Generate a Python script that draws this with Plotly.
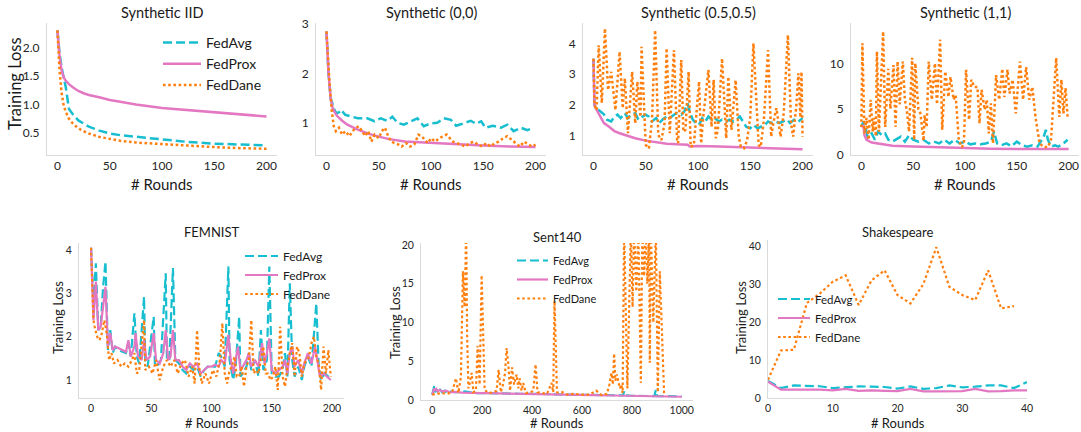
import plotly.graph_objects as go

W, H = 1081, 432
CYAN = "#17becf"
PINK = "#e377c2"
ORANGE = "#ff7f0e"
FONT = "Lato"
AXIS_GRAY = "#dadada"
TICK_COLOR = "#262626"
TEXT_COLOR = "#1a1a1a"

# ---------------- data ----------------
# Synthetic IID
iid_rounds = [0, 2, 4, 6, 8, 11, 15, 20, 25, 30, 40, 50, 60, 75, 100, 125, 150, 175, 200]
iid_fedavg = [2.31, 1.9, 1.65, 1.5, 1.3, 0.92, 0.82, 0.72, 0.66, 0.61, 0.54, 0.49, 0.46, 0.43, 0.38, 0.34, 0.31, 0.29, 0.28]
iid_fedprox = [2.31, 1.85, 1.6, 1.48, 1.42, 1.36, 1.3, 1.24, 1.2, 1.17, 1.13, 1.08, 1.05, 1.0, 0.94, 0.9, 0.86, 0.82, 0.79]
iid_feddane = [2.31, 1.6, 1.2, 0.98, 0.87, 0.75, 0.66, 0.58, 0.53, 0.49, 0.43, 0.39, 0.36, 0.33, 0.3, 0.27, 0.25, 0.23, 0.22]

# Synthetic (0,0)
s00_prox_rounds = [0, 2, 4, 6, 8, 10, 15, 20, 30, 40, 50, 60, 75, 100, 125, 150, 175, 200]
s00_fedprox = [2.85, 2.0, 1.5, 1.3, 1.22, 1.15, 1.05, 0.97, 0.87, 0.79, 0.73, 0.68, 0.63, 0.6, 0.57, 0.55, 0.53, 0.52]
s00_avg_rounds = [0, 2, 4, 6, 8, 10, 12, 14, 18, 23, 30, 39, 46, 52, 58, 63, 68, 74, 81, 87,
                  93, 100, 106, 112, 119, 124, 130, 138, 143, 148, 152, 159, 167, 173, 179, 186, 192, 198]
s00_fedavg = [2.85, 2.0, 1.5, 1.35, 1.25, 1.2, 1.22, 1.27, 1.17, 1.14, 1.1, 1.1, 1.04, 1.1, 1.05, 1.13, 1.01, 0.97, 1.04, 1.1,
              0.94, 1.0, 1.01, 1.1, 1.07, 0.95, 0.99, 1.05, 0.99, 1.04, 0.91, 0.95, 0.91, 0.97, 0.84, 0.91, 0.86, 0.91]
s00_dane_rounds = [0, 2, 3, 5, 7, 9, 12, 15, 18, 22, 25, 28, 31, 34, 37, 40, 43, 46, 50, 53,
                   56, 59, 62, 65, 69, 72, 76, 80, 84, 88, 91, 94, 97, 100, 104, 108, 112, 115, 118, 121,
                   125, 129, 133, 137, 141, 145, 149, 153, 157, 161, 165, 169, 173, 177, 181, 185, 189, 193, 197, 200]
s00_feddane = [2.85, 2.0, 1.8, 1.27, 0.94, 0.84, 0.91, 0.77, 0.84, 0.74, 0.84, 0.91, 0.94, 0.84, 0.74, 0.84, 0.63, 0.77, 0.7, 0.84,
               0.91, 0.74, 0.63, 0.6, 0.57, 0.53, 0.6, 0.53, 0.57, 0.77, 0.74, 0.67, 0.6, 0.7, 0.63, 0.7, 0.74, 0.77, 0.7, 0.63,
               0.6, 0.57, 0.53, 0.6, 0.63, 0.57, 0.53, 0.6, 0.53, 0.6, 0.63, 0.7, 0.74, 0.67, 0.6, 0.53, 0.63, 0.57, 0.53, 0.57]

# Synthetic (0.5,0.5)
s05_prox_rounds = [0, 1, 3, 5, 10, 15, 20, 25, 30, 40, 50, 60, 70, 80, 90, 92, 100, 120, 150, 175, 200]
s05_fedprox = [3.5, 2.0, 1.85, 1.72, 1.42, 1.3, 1.16, 1.09, 1.03, 0.93, 0.85, 0.8, 0.75, 0.73, 0.72, 0.66, 0.68, 0.66, 0.63, 0.6, 0.57]
s05_avg_rounds = [0, 1, 3, 6, 10, 13, 17, 20, 23, 26, 30, 33, 36, 40, 43, 47, 50, 53, 56, 60,
                  63, 66, 70, 73, 77, 80, 84, 87, 90, 92, 95, 98, 101, 104, 107, 110, 113, 116, 120, 123,
                  127, 130, 134, 137, 140, 143, 146, 150, 153, 157, 160, 164, 167, 170, 174, 178, 181, 185, 188, 192, 196, 200]
s05_fedavg = [3.5, 2.0, 1.9, 1.8, 1.7, 1.53, 1.47, 1.63, 1.69, 1.58, 1.74, 1.58, 1.69, 1.74, 1.53, 1.63, 1.69, 1.63, 1.47, 1.58,
              1.42, 1.53, 1.63, 1.58, 1.69, 1.74, 1.69, 1.8, 2.06, 1.8, 1.53, 1.42, 1.36, 1.58, 1.47, 1.63, 1.53, 1.58, 1.47, 1.53,
              1.47, 1.53, 1.47, 1.53, 1.63, 1.47, 1.3, 1.25, 1.36, 1.25, 1.3, 1.36, 1.47, 1.42, 1.47, 1.42, 1.47, 1.53, 1.42, 1.53, 1.47, 1.58]
s05_dane_rounds = [0, 1, 3, 5, 8, 11, 14, 17, 21, 25, 28, 30, 33, 37, 40, 42, 45, 46, 50, 53,
                   56, 59, 62, 65, 68, 70, 73, 77, 80, 81, 84, 86, 88, 91, 93, 96, 101, 103, 105, 110,
                   113, 115, 117, 119, 123, 127, 129, 132, 136, 139, 141, 144, 147, 150, 153, 158, 160, 163, 167, 170,
                   172, 175, 179, 182, 186, 189, 191, 194, 196, 198, 199, 200]
s05_feddane = [3.5, 2.0, 1.84, 3.94, 2.07, 4.48, 2.49, 3.08, 1.84, 3.73, 1.9, 2.87, 1.09, 3.08, 1.41, 2.76, 1.62, 3.89, 0.71, 0.6,
               1.5, 4.43, 1.03, 0.87, 1.41, 3.84, 1.09, 3.78, 0.87, 0.77, 3.46, 1.14, 1.2, 3.08, 0.65, 0.7, 2.76, 0.76, 1.62, 3.14,
               1.3, 2.82, 0.93, 1.2, 3.51, 0.93, 2.92, 1.2, 2.81, 0.98, 0.65, 0.6, 0.87, 1.62, 4.0, 0.71, 0.65, 1.52, 3.78, 0.98,
               1.41, 1.9, 0.98, 1.74, 4.27, 1.4, 0.98, 1.95, 3.03, 1.6, 3.08, 0.98]

# Synthetic (1,1)
s11_prox_rounds = [0, 2, 3, 5, 10, 20, 30, 50, 75, 100, 125, 150, 175, 200]
s11_fedprox = [3.0, 3.2, 2.1, 1.6, 1.3, 1.15, 0.95, 0.85, 0.77, 0.66, 0.62, 0.59, 0.55, 0.59]
s11_avg_rounds = [0, 2, 4, 6, 10, 13, 16, 20, 23, 26, 30, 35, 38, 42, 46, 50, 55, 60, 65, 70,
                  75, 80, 85, 90, 95, 100, 105, 110, 115, 120, 125, 128, 131, 135, 140, 145, 150, 155, 160, 165,
                  170, 173, 176, 178, 180, 183, 187, 190, 195, 199]
s11_fedavg = [3.0, 3.6, 3.0, 1.9, 2.3, 1.6, 2.5, 2.1, 2.3, 1.6, 1.4, 1.75, 1.95, 1.4, 2.1, 1.6, 1.4, 1.6, 1.2, 1.4,
              1.2, 1.6, 1.2, 1.6, 1.2, 1.4, 1.1, 1.2, 1.1, 1.2, 1.4, 2.5, 1.2, 1.0, 1.2, 0.9, 1.4, 1.0, 0.85, 1.0,
              0.85, 1.4, 1.95, 2.7, 1.6, 0.85, 1.0, 0.85, 1.2, 1.6]
s11_dane_rounds = [0, 1, 3, 5, 7, 9, 11, 12, 14, 15, 17, 21, 23, 26, 28, 31, 33, 35, 37, 40,
                   42, 44, 46, 49, 51, 52, 55, 57, 60, 61, 63, 65, 68, 71, 73, 76, 78, 81, 84, 86,
                   89, 91, 94, 97, 99, 101, 104, 106, 109, 112, 114, 116, 119, 121, 123, 125, 127, 130, 133, 136,
                   138, 141, 143, 146, 149, 153, 156, 159, 162, 165, 168, 171, 172, 176, 180, 183, 185, 186, 188, 191,
                   193, 195, 197, 199]
s11_feddane = [3.0, 12.2, 2.3, 4.0, 1.6, 6.0, 2.5, 4.0, 2.0, 11.3, 2.5, 13.5, 3.0, 9.4, 5.0, 9.8, 3.0, 10.2, 5.5, 10.2,
               6.0, 4.7, 2.5, 10.6, 1.6, 10.0, 5.0, 4.5, 1.5, 4.3, 3.0, 10.2, 6.0, 10.0, 5.5, 12.6, 2.7, 9.1, 6.3, 8.5,
               6.0, 6.5, 1.6, 0.8, 1.2, 9.3, 3.8, 8.2, 7.4, 7.4, 3.4, 7.1, 4.9, 6.0, 2.3, 5.6, 1.2, 8.7, 6.0, 9.4,
               6.3, 9.3, 6.7, 8.2, 4.5, 10.2, 6.0, 9.6, 6.0, 7.4, 4.1, 1.9, 1.2, 0.8, 0.8, 1.6, 4.9, 7.1, 10.6, 4.1,
               8.2, 4.5, 7.3, 4.1]

# FEMNIST
fem_avg_rounds = [0, 2, 4, 6, 8, 10, 12, 14, 16, 18, 20, 23, 26, 29, 31, 33, 36, 38, 40, 44,
                  45, 47, 52, 53, 55, 58, 62, 63, 65, 68, 70, 73, 76, 79, 82, 85, 88, 91, 94, 97,
                  100, 103, 106, 108, 111, 114, 115, 118, 120, 123, 124, 126, 129, 131, 133, 136, 139, 141, 143, 146,
                  148, 150, 153, 156, 159, 161, 163, 165, 167, 169, 172, 175, 177, 180, 183, 187, 189, 191, 194, 197, 199]
fem_fedavg = [4.05, 2.77, 3.69, 2.15, 2.23, 3.15, 3.73, 1.69, 2.15, 1.62, 1.77, 1.69, 1.65, 1.62, 1.85, 1.54, 2.54, 1.54, 1.38, 2.92,
              1.46, 1.31, 2.46, 1.38, 1.31, 1.46, 3.46, 1.46, 1.46, 3.58, 1.46, 1.38, 1.23, 1.15, 1.31, 1.23, 1.31, 1.08, 1.23, 1.31,
              1.31, 1.31, 1.62, 1.54, 1.31, 3.62, 1.46, 1.0, 1.31, 2.46, 1.08, 1.15, 1.31, 1.62, 1.23, 1.46, 1.08, 2.15, 1.23, 1.46,
              3.62, 1.15, 1.08, 1.08, 1.23, 1.62, 1.08, 3.23, 1.46, 1.08, 1.31, 1.0, 1.31, 1.54, 1.31, 2.77, 1.31, 1.0, 1.15, 1.08, 1.0]
fem_prox_rounds = [0, 1, 2, 4, 6, 8, 10, 12, 14, 16, 18, 20, 23, 26, 29, 31, 33, 36, 37, 39,
                   42, 44, 46, 49, 52, 54, 57, 60, 62, 64, 66, 68, 70, 73, 76, 79, 82, 85, 88, 91,
                   94, 97, 100, 103, 106, 108, 111, 114, 116, 118, 120, 122, 124, 126, 129, 131, 133, 136, 139, 142,
                   144, 146, 148, 150, 153, 156, 159, 161, 163, 165, 167, 169, 172, 175, 177, 180, 183, 186, 188, 190,
                   193, 196, 199]
fem_fedprox = [4.05, 3.2, 2.38, 3.27, 2.15, 2.23, 2.7, 3.15, 1.77, 2.08, 1.69, 1.77, 1.73, 1.69, 1.65, 1.92, 1.54, 1.77, 2.08, 1.54,
               1.46, 1.92, 1.46, 1.54, 2.08, 1.46, 1.38, 1.62, 2.15, 1.46, 1.54, 2.15, 1.46, 1.46, 1.31, 1.23, 1.38, 1.31, 1.38, 1.15,
               1.23, 1.31, 1.31, 1.35, 1.31, 1.46, 1.38, 2.04, 1.46, 1.15, 1.46, 1.77, 1.23, 1.31, 1.46, 1.62, 1.31, 1.46, 1.31, 1.85,
               1.38, 1.62, 1.96, 1.23, 1.15, 1.23, 1.31, 1.46, 1.15, 1.62, 1.77, 1.31, 1.46, 1.15, 1.38, 1.62, 1.38, 1.77, 1.46, 1.08,
               1.15, 1.08, 1.0]
fem_dane_rounds = [0, 1, 2, 3, 5, 7, 9, 11, 13, 15, 17, 19, 22, 25, 28, 31, 34, 36, 38, 40,
                   44, 45, 48, 51, 54, 57, 60, 63, 66, 69, 72, 75, 78, 81, 84, 86, 88, 90, 92, 95,
                   98, 101, 104, 107, 109, 111, 113, 115, 117, 119, 121, 123, 125, 127, 129, 131, 133, 135, 137, 139,
                   141, 143, 145, 147, 149, 151, 153, 155, 157, 159, 161, 163, 165, 167, 169, 171, 173, 175, 177, 179,
                   181, 183, 185, 187, 189, 191, 193, 195, 197, 199]
fem_feddane = [4.05, 3.15, 2.38, 2.23, 2.0, 1.92, 2.08, 2.38, 2.08, 1.46, 1.62, 1.38, 1.46, 1.31, 1.38, 1.31, 1.46, 1.62, 1.15, 1.23,
               2.38, 1.23, 1.31, 1.15, 1.46, 1.0, 1.31, 1.46, 1.31, 1.46, 1.15, 1.38, 1.46, 1.08, 1.31, 0.92, 2.15, 1.23, 0.92, 1.15,
               0.92, 1.23, 1.08, 1.46, 2.31, 1.15, 0.92, 1.23, 1.31, 1.54, 1.08, 1.08, 1.31, 0.85, 1.31, 1.46, 2.38, 1.15, 1.23, 1.15,
               1.46, 1.77, 1.15, 1.15, 1.0, 1.08, 1.31, 0.77, 2.23, 1.08, 0.85, 1.31, 1.62, 1.85, 1.08, 1.77, 1.62, 1.08, 1.38, 1.46,
               1.54, 1.85, 2.0, 1.54, 1.38, 0.77, 1.77, 1.15, 1.69, 1.08]

# Sent140
sent_avg_rounds = [0, 8, 12, 18, 25, 32, 40, 50, 60, 75, 90, 110, 130, 150, 175, 200, 250, 300, 350, 400,
                   450, 500, 550, 600, 650, 700, 750, 765, 769, 773, 800, 850, 890, 896, 900, 950, 1000]
sent_fedavg = [0.7, 1.8, 1.0, 1.4, 0.9, 1.3, 1.0, 1.2, 0.9, 1.1, 1.0, 1.0, 1.1, 1.0, 0.9, 0.9, 0.85, 0.85, 0.8, 0.8,
               0.75, 0.75, 0.7, 0.65, 0.65, 0.6, 0.6, 0.6, 1.1, 0.6, 0.55, 0.55, 0.5, 1.3, 0.5, 0.5, 0.45]
sent_prox_rounds = [0, 8, 12, 16, 22, 30, 40, 55, 70, 90, 120, 160, 200, 260, 320, 400, 480, 560, 640, 720,
                    800, 880, 960, 1000]
sent_fedprox = [0.65, 1.5, 1.2, 1.4, 1.1, 1.3, 1.1, 1.2, 1.0, 1.05, 0.95, 0.95, 0.9, 0.85, 0.8, 0.78, 0.72, 0.68, 0.62, 0.58,
                0.52, 0.48, 0.45, 0.42]
sent_dane_rounds = [0, 20, 40, 60, 80, 95, 105, 115, 123, 130, 136, 140, 145, 152, 158, 165, 175, 182, 190, 198,
                    204, 210, 225, 245, 258, 266, 275, 283, 292, 298, 305, 312, 320, 328, 338, 345, 350, 358, 365, 375,
                    395, 405, 414, 422, 440, 460, 478, 485, 490, 495, 500, 510, 522, 540, 570, 600, 630, 657, 680, 700,
                    710, 718, 724, 729, 734, 740, 746, 752, 758, 763, 769, 782, 796, 803, 809, 818, 826, 836, 842, 849,
                    856, 862, 869, 872, 876, 886, 896, 904, 912, 920, 929, 935]
sent_feddane = [0.7, 0.8, 0.9, 0.8, 1.0, 2.8, 0.9, 3.0, 16.6, 12.0, 22.0, 8.0, 1.5, 2.5, 3.5, 1.0, 1.2, 7.0, 2.0, 16.1,
                8.0, 1.3, 0.9, 1.0, 1.2, 3.9, 1.0, 1.9, 3.5, 6.7, 4.6, 1.2, 4.2, 2.0, 3.3, 1.5, 2.8, 1.2, 2.2, 0.9,
                1.0, 1.2, 4.6, 1.0, 0.9, 0.8, 2.2, 1.0, 12.8, 5.0, 1.0, 0.9, 1.0, 0.7, 0.8, 0.7, 0.7, 1.2, 0.6, 0.8,
                2.0, 3.5, 2.0, 6.0, 2.5, 3.3, 2.5, 1.5, 2.0, 0.9, 22.0, 1.5, 22.0, 12.0, 22.0, 14.0, 22.0, 2.2, 22.0, 16.0,
                22.0, 15.0, 22.0, 4.8, 22.0, 10.0, 22.0, 1.0, 16.6, 8.0, 1.0, 0.8]

# Shakespeare
shk_rounds = [0, 2, 4, 6, 8, 10, 12, 14, 16, 18, 20, 22, 24, 26, 28, 30, 32, 34, 36, 38, 40]
shk_fedavg = [4.5, 2.6, 3.3, 3.2, 3.1, 2.6, 2.8, 3.05, 3.0, 2.9, 2.45, 3.05, 2.4, 2.6, 3.3, 2.8, 3.0, 3.3, 3.3, 2.6, 4.2]
shk_fedprox = [4.3, 2.2, 2.2, 2.2, 2.2, 2.0, 2.4, 1.9, 2.0, 1.9, 1.8, 2.4, 1.75, 1.75, 1.8, 1.8, 2.4, 1.75, 1.8, 2.0, 2.0]
shk_dane_rounds = [0, 2, 4, 6, 8, 10, 12, 14, 16, 18, 20, 22, 24, 26, 28, 30, 32, 34, 36, 38]
shk_feddane = [4.8, 12.5, 12.7, 25.0, 27.5, 30.6, 32.3, 24.5, 31.0, 33.6, 27.1, 24.9, 30.0, 39.7, 29.3, 27.1, 25.8, 33.6, 23.6, 24.2]

# tick labels
x_ticks_200 = [0, 50, 100, 150, 200]
x_ticks_sent = [0, 200, 400, 600, 800, 1000]
x_ticks_shk = [0, 10, 20, 30, 40]

# ---------------- layout helpers ----------------
def dom_x(a, b):
    return [a / W, b / W]


def dom_y(top, bottom):
    return [1 - bottom / H, 1 - top / H]


panels = [
    dict(title="Synthetic IID", px=(47, 277), py=(23, 155), xr=[-10, 210], yr=[0.11, 2.44],
         xt=x_ticks_200, yt=[0.5, 1.0, 1.5, 2.0], ytt=["0.5", "1.0", "1.5", "2.0"], row=0,
         series=[("FedAvg", iid_rounds, iid_fedavg), ("FedProx", iid_rounds, iid_fedprox),
                 ("FedDane", iid_rounds, iid_feddane)],
         legend="legend"),
    dict(title="Synthetic (0,0)", px=(316, 546), py=(23, 155), xr=[-10, 210], yr=[0.36, 3.02],
         xt=x_ticks_200, yt=[1, 2, 3], ytt=["1", "2", "3"], row=0,
         series=[("FedAvg", s00_avg_rounds, s00_fedavg), ("FedProx", s00_prox_rounds, s00_fedprox),
                 ("FedDane", s00_dane_rounds, s00_feddane)],
         legend=None),
    dict(title="Synthetic (0.5,0.5)", px=(583, 813), py=(23, 155), xr=[-10, 210], yr=[0.385, 4.66],
         xt=x_ticks_200, yt=[1, 2, 3, 4], ytt=["1", "2", "3", "4"], row=0,
         series=[("FedAvg", s05_avg_rounds, s05_fedavg), ("FedProx", s05_prox_rounds, s05_fedprox),
                 ("FedDane", s05_dane_rounds, s05_feddane)],
         legend=None),
    dict(title="Synthetic (1,1)", px=(851, 1079), py=(23, 155), xr=[-10, 210], yr=[-0.07, 14.43],
         xt=x_ticks_200, yt=[0, 5, 10], ytt=["0", "5", "10"], row=0,
         series=[("FedAvg", s11_avg_rounds, s11_fedavg), ("FedProx", s11_prox_rounds, s11_fedprox),
                 ("FedDane", s11_dane_rounds, s11_feddane)],
         legend=None),
    dict(title="FEMNIST", px=(79, 344), py=(243, 398), xr=[-10, 210], yr=[0.585, 4.16],
         xt=x_ticks_200, yt=[1, 2, 3, 4], ytt=["1", "2", "3", "4"], row=1,
         series=[("FedAvg", fem_avg_rounds, fem_fedavg), ("FedProx", fem_prox_rounds, fem_fedprox),
                 ("FedDane", fem_dane_rounds, fem_feddane)],
         legend="legend2"),
    dict(title="Sent140", px=(421, 693), py=(243, 400), xr=[-45, 1045], yr=[0, 20.26],
         xt=x_ticks_sent, yt=[0, 5, 10, 15, 20], ytt=["0", "5", "10", "15", "20"], row=1,
         series=[("FedAvg", sent_avg_rounds, sent_fedavg), ("FedProx", sent_prox_rounds, sent_fedprox),
                 ("FedDane", sent_dane_rounds, sent_feddane)],
         legend="legend3"),
    dict(title="Shakespeare", px=(768, 1027), py=(240, 398), xr=[0, 40], yr=[0, 41.6],
         xt=x_ticks_shk, yt=[0, 10, 20, 30, 40], ytt=["0", "10", "20", "30", "40"], row=1,
         series=[("FedAvg", shk_rounds, shk_fedavg), ("FedProx", shk_rounds, shk_fedprox),
                 ("FedDane", shk_dane_rounds, shk_feddane)],
         legend="legend4"),
]

styles = {
    "FedAvg": dict(color=CYAN, dash="9px,4px"),
    "FedProx": dict(color=PINK, dash="solid"),
    "FedDane": dict(color=ORANGE, dash="2.6px,2.6px"),
}

fig = go.Figure()
layout = dict(
    width=W, height=H, margin=dict(l=0, r=0, t=0, b=0, pad=0, autoexpand=False),
    paper_bgcolor="white", plot_bgcolor="white",
    font=dict(family=FONT, color=TICK_COLOR),
    annotations=[],
)

for i, p in enumerate(panels, start=1):
    xa = "x" if i == 1 else f"x{i}"
    ya = "y" if i == 1 else f"y{i}"
    top = p["row"] == 0
    lw = 2.5 if top else 2.2
    tick_size = 12 if top else 10.5
    for name, rx, vy in p["series"]:
        st = styles[name]
        tr = go.Scatter(
            x=rx, y=vy, mode="lines", name=name, xaxis=xa, yaxis=ya,
            line=dict(color=st["color"], width=lw, dash=st["dash"]),
            showlegend=p["legend"] is not None,
            hoverinfo="skip",
        )
        if p["legend"] is not None:
            tr.legend = p["legend"]
        fig.add_trace(tr)

    common = dict(showgrid=False, zeroline=False, showline=True, linecolor=AXIS_GRAY, linewidth=1,
                  ticks="", automargin=False,
                  tickfont=dict(family=FONT, size=tick_size, color=TICK_COLOR))
    layout["xaxis" if i == 1 else f"xaxis{i}"] = dict(
        common, domain=dom_x(*p["px"]), range=p["xr"], tickmode="array", tickvals=p["xt"],
        ticktext=[str(t) for t in p["xt"]], anchor=ya, ticklabelstandoff=0)
    layout["yaxis" if i == 1 else f"yaxis{i}"] = dict(
        common, domain=dom_y(*p["py"]), range=p["yr"], tickmode="array", tickvals=p["yt"],
        ticktext=p["ytt"], anchor=xa, ticklabelstandoff=4)

    cx = (p["px"][0] + p["px"][1]) / 2 / W
    ty = 13 if top else (237 if p["title"] == "Sent140" else 232)
    layout["annotations"].append(dict(
        text=p["title"], x=cx, y=1 - ty / H, xref="paper", yref="paper", showarrow=False,
        xanchor="center", yanchor="middle",
        font=dict(family=FONT, size=14.5 if top else 13, color=TEXT_COLOR)))
    xy = 184 if top else 423
    layout["annotations"].append(dict(
        text="# Rounds", x=cx, y=1 - xy / H, xref="paper", yref="paper", showarrow=False,
        xanchor="center", yanchor="middle",
        font=dict(family=FONT, size=15 if top else 13, color=TEXT_COLOR)))

for xpx, ypx, size in [(15, 84, 16.5), (58, 318, 13), (395, 323, 13), (741, 318, 13)]:
    layout["annotations"].append(dict(
        text="Training Loss", x=xpx / W, y=1 - ypx / H, xref="paper", yref="paper", showarrow=False,
        xanchor="center", yanchor="middle", textangle=-90,
        font=dict(family=FONT, size=size, color=TEXT_COLOR)))


def leg(xpx, ytop, size, iw):
    return dict(x=xpx / W, y=1 - ytop / H, xanchor="left", yanchor="top", bgcolor="rgba(0,0,0,0)",
                borderwidth=0, font=dict(family=FONT, size=size, color=TEXT_COLOR), itemwidth=iw,
                tracegroupgap=0)


layout["legend"] = leg(158, 27, 14, 38)
layout["legend2"] = leg(240, 241.5, 12, 33)
layout["legend3"] = leg(512, 246, 11, 31)
layout["legend4"] = leg(773, 284.5, 11.5, 32)
layout["showlegend"] = True

fig.update_layout(**layout)
fig.write_html(
    "out.html",
    config={"displayModeBar": False, "staticPlot": True},
    post_script="document.documentElement.style.margin='0';document.body.style.margin='0';"
                "document.body.style.overflow='hidden';",
)
